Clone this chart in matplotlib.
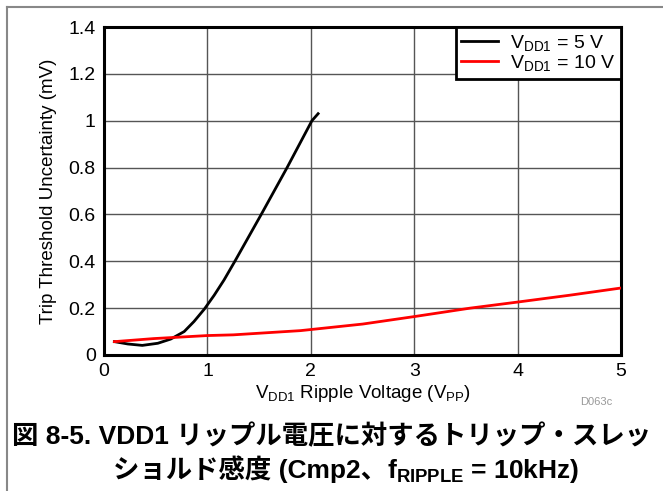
import matplotlib
matplotlib.use("Agg")
import matplotlib.pyplot as plt
from matplotlib.lines import Line2D
from matplotlib.offsetbox import TextArea, HPacker, AnchoredOffsetbox

# ==========================================
# Data
# ==========================================
ripple_5v = [0.1, 0.23, 0.37, 0.52, 0.645, 0.775, 0.87, 0.97, 1.065, 1.16, 1.265,
	1.52, 1.77, 2.01, 2.07]
uncert_5v = [0.057, 0.047, 0.041, 0.050, 0.068, 0.100, 0.143, 0.196, 0.255, 0.32, 0.40,
	0.60, 0.80, 1.00, 1.03]

ripple_10v = [0.1, 0.48, 1.0, 1.25, 1.9, 2.5, 3.0, 3.54, 4.0, 4.5, 5.0]
uncert_10v = [0.057, 0.070, 0.083, 0.086, 0.104, 0.132, 0.164, 0.20, 0.226, 0.255, 0.286]

x_ticks = [0, 1, 2, 3, 4, 5]
y_ticks = [0, 0.2, 0.4, 0.6, 0.8, 1.0, 1.2, 1.4]

plt.rcParams.update({
	'font.family': ['Liberation Sans', 'Noto Sans CJK JP', 'DejaVu Sans'],
	'mathtext.fontset': 'custom',
	'mathtext.rm': 'Liberation Sans',
	'mathtext.it': 'Liberation Sans',
	'mathtext.bf': 'Liberation Sans:bold',
})

fig = plt.figure(figsize=(6.63, 4.91), dpi=100)
ax = fig.add_axes([0.1569, 0.277, 0.78, 0.668])

ax.plot(ripple_5v, uncert_5v, color='black', lw=2.0, label=r'V$_{\mathrm{DD1}}$ = 5 V', zorder=3)
ax.plot(ripple_10v, uncert_10v, color='#ff0000', lw=2.0, label=r'V$_{\mathrm{DD1}}$ = 10 V', zorder=3)

ax.set_xlim(0, 5)
ax.set_ylim(0, 1.4)
ax.set_xticks(x_ticks)
ax.set_yticks(y_ticks)
ax.set_xticklabels([f"{v:g}" for v in x_ticks])
ax.set_yticklabels([f"{v:g}" for v in y_ticks])
ax.tick_params(length=0, labelsize=14, pad=6)
ax.grid(True, color='#555555', lw=1.0)
for s in ax.spines.values():
	s.set_linewidth(2.2)
	s.set_color('black')

ax.set_xlabel(r'V$_{\mathrm{DD1}}$ Ripple Voltage (V$_{\mathrm{PP}}$)', fontsize=13.5, labelpad=2)
ax.set_ylabel('Trip Threshold Uncertainty (mV)', fontsize=13.5, labelpad=8)

leg = ax.legend(loc='upper right', fontsize=14, fancybox=False, framealpha=1,
	edgecolor='black', borderaxespad=0, handlelength=1.9, labelspacing=0.0,
	borderpad=0.3, handletextpad=0.6)
leg.get_frame().set_linewidth(2.0)

fig.text(0.9, 0.181, 'D063c', fontsize=8, color='#999999', ha='center', va='center')

# caption, line 1
fig.text(0.5, 0.112, '図 8-5. VDD1 リップル電圧に対するトリップ・スレッ',
	fontsize=19, weight='bold', ha='center', va='center')

# caption, line 2 (mathtext part packed separately so the CJK glyphs keep their font)
cap_a = TextArea('ショルド感度 (Cmp2、', textprops=dict(fontsize=19, weight='bold'))
cap_b = TextArea(r'f$_{\mathbf{RIPPLE}}$ = 10kHz)', textprops=dict(fontsize=19, weight='bold'))
cap_box = HPacker(children=[cap_a, cap_b], align='baseline', pad=0, sep=0)
fig.add_artist(AnchoredOffsetbox(loc='center', child=cap_box, bbox_to_anchor=(0.522, 0.043),
	bbox_transform=fig.transFigure, frameon=False, pad=0, borderpad=0))

# outer page frame (top and left only)
fig.add_artist(Line2D([0.0105, 1.0], [0.986, 0.986], transform=fig.transFigure, color='#888888', lw=1.5))
fig.add_artist(Line2D([0.0105, 0.0105], [0.0, 0.986], transform=fig.transFigure, color='#888888', lw=1.5))

fig.savefig('out.png', dpi=100)
plt.close(fig)
